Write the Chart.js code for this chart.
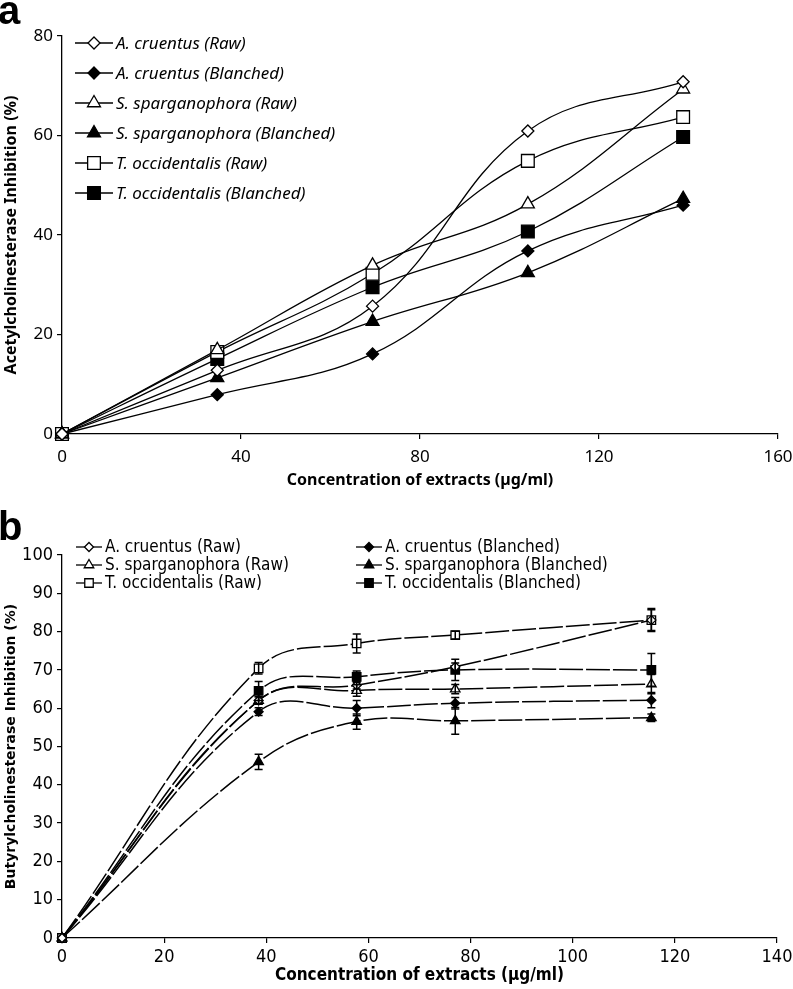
<!DOCTYPE html>
<html>
<head>
<meta charset="utf-8">
<script src="https://cdn.jsdelivr.net/npm/chart.js@4.4.0/dist/chart.umd.min.js"></script>
<style>
  body { margin: 0; background: #fff; width: 793px; height: 989px; position: relative; overflow: hidden; }
  .panel { position: absolute; left: 0; width: 793px; }
  #wrapA { top: 0; height: 490px; }
  #wrapB { top: 490px; height: 499px; }
</style>
</head>
<body>
<div class="panel" id="wrapA"><canvas id="chartA" width="793" height="490"></canvas></div>
<div class="panel" id="wrapB"><canvas id="chartB" width="793" height="499"></canvas></div>
<script>
// ---- panel a : acetylcholinesterase ----
const concA = [0, 34.7, 69.4, 104.1, 138.8];
const acRawA = [0, 12.8, 25.7, 60.9, 70.8];
const acBlA  = [0, 7.9, 16.1, 36.8, 46.0];
const ssRawA = [0, 16.9, 33.9, 46.2, 69.3];
const ssBlA  = [0, 11.3, 22.6, 32.4, 47.3];
const toRawA = [0, 16.5, 32.2, 54.9, 63.7];
const toBlA  = [0, 15.1, 29.5, 40.7, 59.7];
const xTicksA = [0, 40, 80, 120, 160];
const yTicksA = [0, 20, 40, 60, 80];

// ---- panel b : butyrylcholinesterase ----
const concB = [0, 38.5, 57.7, 77, 115.4];
const acRawB = [0, 62.0, 66.0, 70.8, 83.0];
const acBlB  = [0, 59.1, 60.0, 61.3, 62.1];
const ssRawB = [0, 62.0, 64.6, 65.0, 66.3];
const ssBlB  = [0, 46.0, 56.5, 56.7, 57.5];
const toRawB = [0, 70.4, 76.9, 79.1, 83.0];
const toBlB  = [0, 64.5, 68.2, 70.0, 70.0];
const acRawErr = [0, 1.0, 1.0, 1.0, 3.0];
const acBlErr  = [0, 1.0, 2.0, 1.5, 2.0];
const ssRawErr = [0, 1.0, 1.5, 1.2, 2.5];
const ssBlErr  = [0, 2.0, 2.0, 3.5, 1.0];
const toRawErr = [0, 1.5, 2.5, 1.0, 2.7];
const toBlErr  = [0, 2.5, 1.5, 2.8, 4.3];
const xTicksB = [0, 20, 40, 60, 80, 100, 120, 140];
const yTicksB = [0, 10, 20, 30, 40, 50, 60, 70, 80, 90, 100];

const seriesNames = ['A. cruentus (Raw)', 'A. cruentus (Blanched)', 'S. sparganophora (Raw)',
  'S. sparganophora (Blanched)', 'T. occidentalis (Raw)', 'T. occidentalis (Blanched)'];
const shapes = ['rectRot', 'rectRot', 'triangle', 'triangle', 'rect', 'rect'];
const filled = [false, true, false, true, false, true];

const fontA = "'Noto Sans', 'Open Sans', sans-serif";
const fontB = "'Liberation Sans Narrow', 'DejaVu Sans Condensed', sans-serif";

function pts(xs, ys) { return xs.map((x, i) => ({ x: x, y: ys[i] })); }

function drawMarker(ctx, shape, fill, r, x, y) {
  ctx.beginPath();
  if (shape === 'rectRot') {
    ctx.moveTo(x, y - r); ctx.lineTo(x + r, y); ctx.lineTo(x, y + r); ctx.lineTo(x - r, y);
  } else if (shape === 'triangle') {
    ctx.moveTo(x, y - r); ctx.lineTo(x + 0.866 * r, y + 0.5 * r); ctx.lineTo(x - 0.866 * r, y + 0.5 * r);
  } else {
    const s = r * Math.SQRT1_2;
    ctx.rect(x - s, y - s, 2 * s, 2 * s);
  }
  ctx.closePath();
  ctx.fillStyle = fill ? '#000' : '#fff';
  ctx.fill();
  ctx.stroke();
}

function makeDatasets(xs, lists, radii, width, dash, errs) {
  return lists.map((vals, i) => ({
    label: seriesNames[i],
    data: pts(xs, vals),
    errors: errs ? errs[i] : null,
    borderColor: '#000',
    borderWidth: width,
    borderDash: dash,
    backgroundColor: filled[i] ? '#000' : '#fff',
    pointStyle: shapes[i],
    pointRadius: radii[i],
    pointBorderColor: '#000',
    pointBackgroundColor: filled[i] ? '#000' : '#fff',
    pointBorderWidth: 1.3,
    tension: 0.4,
    clip: false
  }));
}

// legend drawn inside the plot, line + marker + text
function legendPlugin(cfg) {
  return {
    id: 'customLegend' + cfg.id,
    afterDraw(chart) {
      const ctx = chart.ctx;
      ctx.save();
      ctx.font = cfg.font;
      ctx.textBaseline = 'middle';
      ctx.strokeStyle = '#000';
      ctx.lineWidth = 1.3;
      cfg.items.forEach((it) => {
        const i = it.idx;
        ctx.beginPath();
        ctx.moveTo(it.x, it.y); ctx.lineTo(it.x + cfg.lineLen, it.y);
        ctx.stroke();
        drawMarker(ctx, shapes[i], filled[i], cfg.radii[i], it.x + cfg.lineLen / 2, it.y);
        ctx.fillStyle = '#000';
        ctx.fillText(seriesNames[i], it.x + cfg.lineLen + 3, it.y + 1);
      });
      ctx.fillStyle = '#000';
      ctx.font = "bold 40px 'Liberation Sans', Arial, sans-serif";
      ctx.textBaseline = 'alphabetic';
      ctx.fillText(cfg.letter, cfg.letterX, cfg.letterY);
      ctx.restore();
    }
  };
}

const errorBars = {
  id: 'errorBars',
  afterDatasetsDraw(chart) {
    const ctx = chart.ctx, xs = chart.scales.x, ys = chart.scales.y;
    ctx.save();
    ctx.strokeStyle = '#000';
    ctx.lineWidth = 1.5;
    ctx.setLineDash([]);
    chart.data.datasets.forEach((ds) => {
      if (!ds.errors) return;
      ds.data.forEach((p, j) => {
        const e = ds.errors[j];
        if (!e) return;
        const px = xs.getPixelForValue(p.x);
        const top = ys.getPixelForValue(p.y + e), bot = ys.getPixelForValue(p.y - e);
        ctx.beginPath();
        ctx.moveTo(px, top); ctx.lineTo(px, bot);
        ctx.moveTo(px - 4, top); ctx.lineTo(px + 4, top);
        ctx.moveTo(px - 4, bot); ctx.lineTo(px + 4, bot);
        ctx.stroke();
      });
    });
    ctx.restore();
  }
};

function axis(min, max, ticks, family, size, pad, title, titleFont, titlePad, width, height) {
  return {
    type: 'linear', min: min, max: max,
    afterBuildTicks(s) { s.ticks = ticks.map((v) => ({ value: v })); },
    afterFit(s) {
      if (width) { s.width = width; s.paddingTop = 0; s.paddingBottom = 0; }
      if (height) { s.height = height; s.paddingLeft = 0; s.paddingRight = 0; }
    },
    ticks: { color: '#000', font: { family: family, size: size }, padding: pad },
    grid: { drawOnChartArea: false, color: '#000', tickLength: 5, lineWidth: 1.2 },
    border: { color: '#000', width: 1.3 },
    title: { display: true, text: title, color: '#000', font: titleFont, padding: titlePad }
  };
}

const radiiA = [6, 6, 7.5, 7.5, 9, 9];
new Chart(document.getElementById('chartA'), {
  type: 'line',
  data: { datasets: makeDatasets(concA, [acRawA, acBlA, ssRawA, ssBlA, toRawA, toBlA], radiiA, 1.3, [], null) },
  options: {
    responsive: false, animation: false,
    layout: { padding: { top: 36, right: 15, left: 0, bottom: 0 } },
    plugins: { legend: { display: false }, tooltip: { enabled: false } },
    scales: {
      x: axis(0, 160, xTicksA, fontA, 17, 8, 'Concentration of extracts (\u00b5g/ml)',
        { family: fontA, size: 16, weight: 'bold' }, { top: 0, bottom: 0 }, 0, 56),
      y: axis(0, 80, yTicksA, fontA, 17, 4, 'Acetylcholinesterase Inhibition (%)',
        { family: fontA, size: 16, weight: 'bold' }, { top: 2, bottom: 2 }, 62, 0)
    }
  },
  plugins: [legendPlugin({
    id: 'A', font: 'italic 17px ' + fontA, lineLen: 38, radii: radiiA, letter: 'a', letterX: -2, letterY: 24,
    items: [0, 1, 2, 3, 4, 5].map((i) => ({ idx: i, x: 75, y: 43 + 30 * i }))
  })]
});

const radiiB = [4.5, 4.5, 5.5, 5.5, 6, 6];
new Chart(document.getElementById('chartB'), {
  type: 'line',
  data: { datasets: makeDatasets(concB, [acRawB, acBlB, ssRawB, ssBlB, toRawB, toBlB], radiiB, 1.5, [24, 3],
    [acRawErr, acBlErr, ssRawErr, ssBlErr, toRawErr, toBlErr]) },
  options: {
    responsive: false, animation: false,
    layout: { padding: { top: 65, right: 16, left: 0, bottom: 0 } },
    plugins: { legend: { display: false }, tooltip: { enabled: false } },
    scales: {
      x: axis(0, 140, xTicksB, fontB, 18, 4, 'Concentration of extracts (\u00b5g/ml)',
        { family: fontB, size: 17, weight: 'bold' }, { top: 3, bottom: 3 }, 0, 51),
      y: axis(0, 100, yTicksB, fontB, 18, 4, 'Butyrylcholinesterase Inhibition (%)',
        { family: "'DejaVu Sans', sans-serif", size: 14, weight: 'bold' }, { top: 3, bottom: 3 }, 62, 0)
    }
  },
  plugins: [errorBars, legendPlugin({
    id: 'B', font: '17px ' + fontB, lineLen: 26, radii: radiiB, letter: 'b', letterX: -2, letterY: 50,
    items: [0, 1, 2, 3, 4, 5].map((i) => ({ idx: i, x: (i % 2 ? 356 : 76), y: 57 + 18 * Math.floor(i / 2) }))
  })]
});
</script>
</body>
</html>
